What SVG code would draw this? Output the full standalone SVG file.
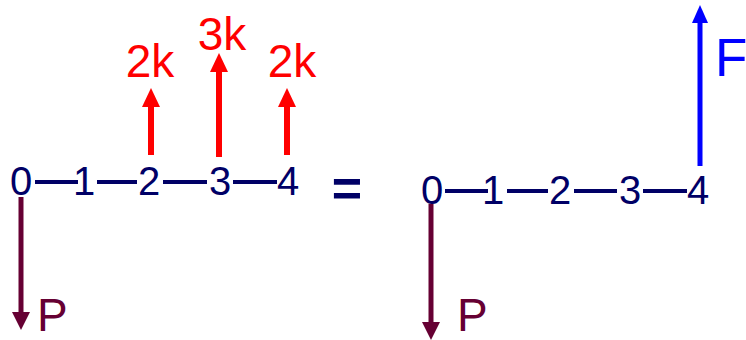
<svg xmlns="http://www.w3.org/2000/svg" width="746" height="340" viewBox="0 0 746 340">
<style>
.d{font-family:"Liberation Sans",Arial,sans-serif;font-size:40px;fill:#000066;text-anchor:middle}
.r{font-family:"Liberation Sans",Arial,sans-serif;font-size:46px;fill:#ff0000;text-anchor:middle}
.p{font-family:"Liberation Sans",Arial,sans-serif;font-size:46px;fill:#660033}
.f{font-family:"Liberation Sans",Arial,sans-serif;font-size:53px;fill:#0000ff}
.eq{font-family:"Liberation Sans",Arial,sans-serif;font-size:52px;font-weight:bold;fill:#000066;text-anchor:middle}
.dash{stroke:#000066;stroke-width:4;fill:none}
.ar{stroke:#ff0000;stroke-width:6;fill:none;marker-end:url(#hr)}
.ab{stroke:#0000ff;stroke-width:5;fill:none;marker-end:url(#hb)}
.am{stroke:#660033;stroke-width:5;fill:none;marker-end:url(#hm)}
</style>
<defs>
<marker id="hr" markerUnits="userSpaceOnUse" markerWidth="19" markerHeight="19" refX="0" refY="9" orient="auto"><path d="M0,0 L19,9 L0,18 z" fill="#ff0000"/></marker>
<marker id="hb" markerUnits="userSpaceOnUse" markerWidth="19" markerHeight="19" refX="0" refY="8" orient="auto"><path d="M0,0 L18,8 L0,16 z" fill="#0000ff"/></marker>
<marker id="hm" markerUnits="userSpaceOnUse" markerWidth="19" markerHeight="19" refX="0" refY="9" orient="auto"><path d="M0,0 L18,9 L0,18 z" fill="#660033"/></marker>
</defs>
<g id="connectors">
<line class="dash" x1="35" y1="182" x2="78" y2="182"/>
<line class="dash" x1="97" y1="182" x2="137" y2="182"/>
<line class="dash" x1="163" y1="182" x2="207" y2="182"/>
<line class="dash" x1="233" y1="182" x2="277" y2="182"/>
<line class="dash" x1="445" y1="191" x2="488" y2="191"/>
<line class="dash" x1="507" y1="191" x2="548" y2="191"/>
<line class="dash" x1="574" y1="191" x2="617" y2="191"/>
<line class="dash" x1="643" y1="191" x2="687" y2="191"/>
<line class="ar" x1="151" y1="155" x2="151" y2="107"/>
<line class="ar" x1="219" y1="157" x2="219" y2="72"/>
<line class="ar" x1="287" y1="155" x2="287" y2="107"/>
<line class="am" x1="21" y1="197" x2="21" y2="312"/>
<line class="am" x1="431" y1="204" x2="431" y2="322"/>
<line class="ab" x1="700" y1="166" x2="700" y2="23"/>
</g>
<g id="n0"><text class="d" x="21" y="195">0</text></g>
<g id="n1"><text class="d" x="84" y="195">1</text></g>
<g id="n2"><text class="d" x="149" y="195">2</text></g>
<g id="n3"><text class="d" x="220" y="195">3</text></g>
<g id="n4"><text class="d" x="288" y="195">4</text></g>
<g id="eq"><text class="eq" x="347" y="206">=</text></g>
<g id="m0"><text class="d" x="432" y="204">0</text></g>
<g id="m1"><text class="d" x="493" y="204">1</text></g>
<g id="m2"><text class="d" x="560" y="204">2</text></g>
<g id="m3"><text class="d" x="630" y="204">3</text></g>
<g id="m4"><text class="d" x="698" y="204">4</text></g>
<g id="l2"><text class="r" x="150" y="77">2k</text></g>
<g id="l3"><text class="r" x="222" y="50">3k</text></g>
<g id="l4"><text class="r" x="292" y="77">2k</text></g>
<g id="pL"><text class="p" x="37" y="331">P</text></g>
<g id="pR"><text class="p" x="457" y="331">P</text></g>
<g id="fR"><text class="f" x="715" y="76">F</text></g>
</svg>
